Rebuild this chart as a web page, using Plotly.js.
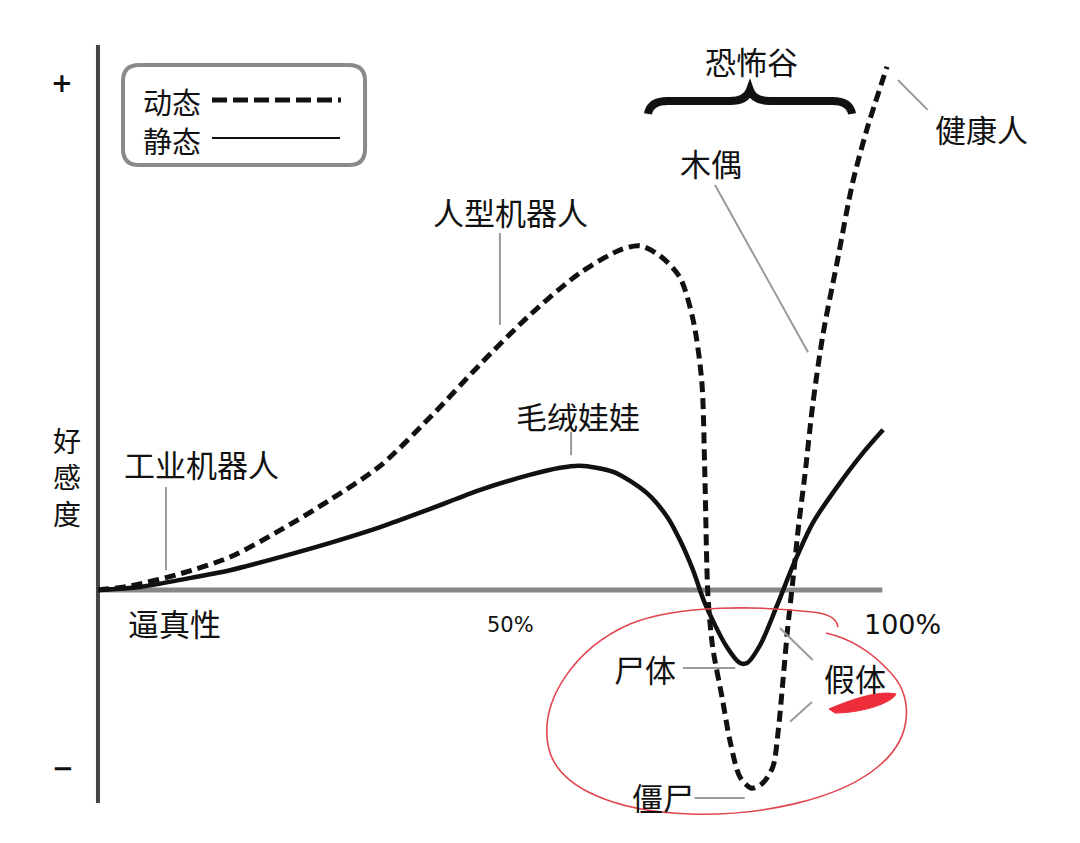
<!DOCTYPE html>
<html>
<head>
<meta charset="utf-8">
<script src="https://cdn.plot.ly/plotly-3.0.1.min.js"></script>
<style>
  html, body { margin: 0; padding: 0; background: #fff; }
  #chart { width: 1080px; height: 843px; }
</style>
</head>
<body>
<div id="chart"></div>
<script>
/* Uncanny valley sketch: affinity (好感度) vs. human likeness (逼真性).
   x = realism in %, y = affinity on an arbitrary scale (+100 at the "+" mark). */

// moving (动态) curve, dashed
var MOVING_X = [0, 4.1, 10.5, 16.9, 23.3, 29.7, 36.1, 42.5, 48.8, 55.2, 61.6, 66.8, 69.3, 71.9,
                74.4, 76.1, 77.2, 77.6, 78.0, 78.6, 79.8, 80.8, 82.1, 83.6, 85.0, 86.3, 87.0, 87.6,
                88.2, 88.9, 89.6, 90.4, 91.4, 92.7, 94.5, 96.5, 98.3, 100.9];
var MOVING_Y = [0, 0.8, 3.2, 6.5, 11.8, 17.8, 24.5, 34.1, 44.4, 54.2, 62.5, 67.1, 67.9, 65.9,
                61.7, 53.3, 41.4, 23.1, -1.0, -11.2, -21.1, -29.6, -36.9, -39.1, -38.1, -34.9, -27.6, -17.8,
                -7.5, 2.4, 12.8, 22.7, 36.5, 50.3, 64.5, 80.3, 90.7, 103.2];

// still (静态) curve, solid
var STILL_X = [0, 5.4, 10.5, 16.9, 23.3, 29.7, 36.1, 42.5, 48.8, 55.2, 59.1, 61.6, 65.9, 70.2,
               72.8, 74.4, 76.1, 77.6, 80.4, 82.1, 83.0, 84.7, 86.8, 88.9, 91.4, 94.5, 97.8, 100.4];
var STILL_Y = [0, 0.6, 2.0, 3.9, 6.5, 9.3, 12.4, 16.0, 19.7, 22.7, 24.1, 24.5, 23.3, 19.1,
               14.4, 9.9, 3.9, -2.6, -11.2, -14.4, -14.4, -10.8, -3.2, 4.9, 13.2, 20.3, 27.0, 31.6];

var X_TICKS = ["50%", "100%"];
var LEGEND_NAMES = ["动态", "静态"];

var W = 1080, H = 843;
var CJK = "'Noto Sans CJK SC', 'Noto Sans', sans-serif";
var INK = "#111";
var LEADER = "#9a9a9a";
var RED = "#e0464f";

// picture pixel -> paper fraction, for the hand-drawn decorations
function P(X, Y) { return (X / W).toFixed(4) + "," + (1 - Y / H).toFixed(4); }

var traces = [
  { type: "scatter", mode: "lines", x: MOVING_X, y: MOVING_Y, name: LEGEND_NAMES[0],
    line: { color: INK, width: 5, dash: "11px,6px", shape: "spline", smoothing: 0.8 },
    hoverinfo: "skip" },
  { type: "scatter", mode: "lines", x: STILL_X, y: STILL_Y, name: LEGEND_NAMES[1],
    line: { color: INK, width: 4.5, shape: "spline", smoothing: 0.8 },
    hoverinfo: "skip" }
];

function lbl(text, x, y, size, extra) {
  var a = { x: x, y: y, xref: "x", yref: "y", text: text, showarrow: false,
    xanchor: "center", yanchor: "middle",
    font: { family: CJK, size: size || 31, color: INK } };
  for (var k in extra || {}) a[k] = extra[k];
  return a;
}

function leader(x0, y0, x1, y1) {
  return { type: "line", xref: "x", yref: "y", x0: x0, y0: y0, x1: x1, y1: y1,
    line: { color: LEADER, width: 2 } };
}

var annotations = [
  lbl("<b>+</b>", -4.6, 100.0, 26, { font: { family: "DejaVu Sans", size: 26, color: INK } }),
  lbl("<b>−</b>", -4.5, -35.1, 26, { font: { family: "DejaVu Sans", size: 26, color: INK } }),
  lbl("好<br>感<br>度", -4.0, 22.3, 28),
  lbl("工业机器人", 13.3, 24.9),
  lbl("逼真性", 9.8, -6.5),
  lbl(X_TICKS[0], 52.8, -6.9, 21, { font: { family: "DejaVu Sans", size: 21, color: INK } }),
  lbl(X_TICKS[1], 102.9, -6.9, 27, { font: { family: "DejaVu Sans", size: 27, color: INK } }),
  lbl("人型机器人", 52.8, 74.6),
  lbl("毛绒娃娃", 61.4, 34.5),
  lbl("木偶", 78.4, 84.4),
  lbl("恐怖谷", 83.6, 104.5),
  lbl("健康人", 113.0, 91.1),
  lbl("尸体", 69.9, -15.4),
  lbl("假体", 96.8, -17.2),
  lbl("僵尸", 72.3, -40.8),
  lbl(LEGEND_NAMES[0], 9.5, 96.5, 29),
  lbl(LEGEND_NAMES[1], 9.5, 88.8, 29)
];

// rounded legend frame
var bx0 = 123, by0 = 65, bx1 = 365, by1 = 165, r = 16;
var boxPath = "M" + P(bx0 + r, by0) + " L" + P(bx1 - r, by0) +
  " Q" + P(bx1, by0) + " " + P(bx1, by0 + r) + " L" + P(bx1, by1 - r) +
  " Q" + P(bx1, by1) + " " + P(bx1 - r, by1) + " L" + P(bx0 + r, by1) +
  " Q" + P(bx0, by1) + " " + P(bx0, by1 - r) + " L" + P(bx0, by0 + r) +
  " Q" + P(bx0, by0) + " " + P(bx0 + r, by0) + " Z";

var bracePath = "M" + P(648, 114) + " Q" + P(650, 101) + " " + P(668, 101) +
  " L" + P(730, 101) + " Q" + P(746, 101) + " " + P(750, 90) +
  " Q" + P(754, 101) + " " + P(770, 101) + " L" + P(832, 101) +
  " Q" + P(850, 101) + " " + P(852, 114);

var loopPath = "M" + P(838, 627) + " Q" + P(836, 614) + " " + P(812, 612) +
  " C" + P(760, 606) + " " + P(680, 604) + " " + P(630, 624) +
  " C" + P(575, 648) + " " + P(540, 700) + " " + P(548, 745) +
  " C" + P(556, 790) + " " + P(620, 812) + " " + P(690, 814) +
  " C" + P(760, 816) + " " + P(840, 800) + " " + P(880, 765) +
  " C" + P(915, 735) + " " + P(912, 695) + " " + P(890, 672) +
  " C" + P(870, 650) + " " + P(848, 638) + " " + P(826, 633);

var scribblePath = "M" + P(829, 709) + " C" + P(850, 700) + " " + P(878, 690) + " " + P(896, 694) +
  " C" + P(892, 703) + " " + P(862, 713) + " " + P(835, 713) + " Z";

var shapes = [
  // axes
  { type: "line", xref: "x", yref: "y", x0: 0, x1: 100.3, y0: 0, y1: 0, layer: "below",
    line: { color: "#878787", width: 5 } },
  { type: "line", xref: "x", yref: "y", x0: 0, x1: 0, y0: -42, y1: 107.5, layer: "below",
    line: { color: "#444", width: 4 } },
  // leaders
  leader(8.7, 20.3, 8.7, 3.9),
  leader(51.4, 70.4, 51.4, 52.3),
  leader(60.5, 31.2, 60.5, 26.6),
  leader(78.9, 79.9, 90.8, 46.9),
  leader(102.3, 100.6, 106.1, 94.7),
  leader(74.8, -15.4, 81.5, -15.4),
  leader(87.2, -7.5, 91.4, -13.8),
  leader(88.5, -26.0, 91.3, -22.1),
  leader(76.3, -41.0, 82.7, -41.0),
  // legend
  { type: "path", xref: "paper", yref: "paper", path: boxPath, fillcolor: "#fff",
    line: { color: "#8a8a8a", width: 4 } },
  { type: "path", xref: "paper", yref: "paper", path: "M" + P(212, 100) + " L" + P(341, 100),
    line: { color: INK, width: 5, dash: "15px,6px" } },
  { type: "path", xref: "paper", yref: "paper", path: "M" + P(212, 138) + " L" + P(340, 138),
    line: { color: INK, width: 2 } },
  // brace over the valley
  { type: "path", xref: "paper", yref: "paper", path: bracePath, line: { color: INK, width: 8 } },
  // red hand markings
  { type: "path", xref: "paper", yref: "paper", path: loopPath, line: { color: RED, width: 1.6 } },
  { type: "path", xref: "paper", yref: "paper", path: scribblePath, fillcolor: "#ee2c3a",
    line: { color: "#ee2c3a", width: 1 } }
];

var layout = {
  width: W, height: H,
  margin: { l: 0, r: 0, t: 0, b: 0 },
  paper_bgcolor: "#fff", plot_bgcolor: "#fff",
  showlegend: false,
  xaxis: { range: [-12.53, 125.58], visible: false, fixedrange: true },
  yaxis: { range: [-49.9, 116.37], visible: false, fixedrange: true },
  shapes: shapes,
  annotations: annotations
};

Plotly.newPlot("chart", traces, layout, { displayModeBar: false, staticPlot: true });
</script>
</body>
</html>
